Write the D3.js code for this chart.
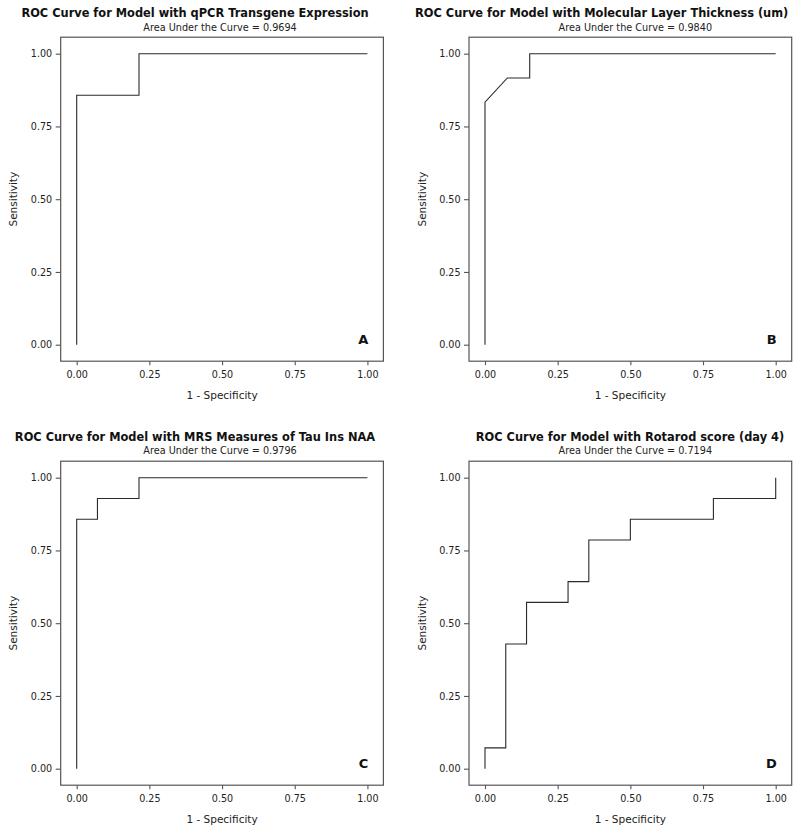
<!DOCTYPE html>
<html>
<head>
<meta charset="utf-8">
<script src="https://cdn.jsdelivr.net/npm/d3@7"></script>
<style>
  html, body { margin: 0; padding: 0; background: #fff; }
  svg { display: block; }
</style>
</head>
<body>
<div id="chart"></div>
<script>
// ---- Data ----
const titles = [
  "ROC Curve for Model with qPCR Transgene Expression",
  "ROC Curve for Model with Molecular Layer Thickness (um)",
  "ROC Curve for Model with MRS Measures of Tau Ins NAA",
  "ROC Curve for Model with Rotarod score (day 4)"
];
const aucValues = ["0.9694", "0.9840", "0.9796", "0.7194"];
const panelLetters = ["A", "B", "C", "D"];

const fprA = [0, 0, 0.2143, 0.2143, 1];
const tprA = [0, 0.8571, 0.8571, 1, 1];

const fprB = [0, 0, 0.0769, 0.1538, 0.1538, 1];
const tprB = [0, 0.8333, 0.9167, 0.9167, 1, 1];

const fprC = [0, 0, 0.0714, 0.0714, 0.2143, 0.2143, 1];
const tprC = [0, 0.8571, 0.8571, 0.9286, 0.9286, 1, 1];

const fprD = [0, 0, 0.0714, 0.0714, 0.1429, 0.1429, 0.2857, 0.2857, 0.3571, 0.3571, 0.5, 0.5, 0.7857, 0.7857, 1, 1];
const tprD = [0, 0.0714, 0.0714, 0.4286, 0.4286, 0.5714, 0.5714, 0.6429, 0.6429, 0.7857, 0.7857, 0.8571, 0.8571, 0.9286, 0.9286, 1];

const tickValues = [0, 0.25, 0.5, 0.75, 1];
const tickLabels = ["0.00", "0.25", "0.50", "0.75", "1.00"];
const xAxisTitle = "1 - Specificity";
const yAxisTitle = "Sensitivity";

// ---- Layout ----
const W = 800, H = 834;
const layout = [
  { ox: 0,     oy: 0,   titleX: 195 },
  { ox: 408.3, oy: 0,   titleX: 601.7 },
  { ox: 0,     oy: 424, titleX: 195 },
  { ox: 408.3, oy: 424, titleX: 630 }
];
const series = [[fprA, tprA], [fprB, tprB], [fprC, tprC], [fprD, tprD]];

const svg = d3.select("#chart").append("svg")
  .attr("width", W).attr("height", H)
  .style("font-family", "'DejaVu Sans', Verdana, sans-serif");

const PW = 290.7, PH = 291, PAD = 16;

layout.forEach((L, i) => {
  const x0 = 76.7 + L.ox;
  const y1 = 53.7 + L.oy;
  const x = d3.scaleLinear().domain([0, 1]).range([x0, x0 + PW]);
  const y = d3.scaleLinear().domain([0, 1]).range([y1 + PH, y1]);

  const boxL = x(0) - PAD, boxR = x(1) + PAD;
  const boxT = y(1) - 16.5, boxB = y(0) + 16.5;

  const g = svg.append("g");

  // titles
  g.append("text")
    .attr("x", L.titleX).attr("y", 17.3 + L.oy - (L.oy ? 0.5 : 0))
    .attr("text-anchor", "middle")
    .style("font-weight", "bold").style("font-size", "11.4px").attr("fill", "#111")
    .text(titles[i]);
  g.append("text")
    .attr("x", (boxL + boxR) / 2 + (i % 2 ? 5 : -2)).attr("y", 30.7 + L.oy - (L.oy ? 0.5 : 0))
    .attr("text-anchor", "middle")
    .style("font-size", "9.7px").attr("fill", "#222")
    .text("Area Under the Curve = " + aucValues[i]);

  // box
  g.append("rect")
    .attr("x", boxL).attr("y", boxT)
    .attr("width", boxR - boxL).attr("height", boxB - boxT)
    .attr("fill", "none").attr("stroke", "#555").attr("stroke-width", 1.2);

  // axes
  const yAxis = d3.axisLeft(y).tickValues(tickValues)
    .tickFormat((d, k) => tickLabels[k]).tickSize(5).tickPadding(3.5);
  const ya = g.append("g").attr("transform", `translate(${boxL},0)`).call(yAxis);
  const xAxis = d3.axisBottom(x).tickValues(tickValues)
    .tickFormat((d, k) => tickLabels[k]).tickSize(4).tickPadding(6);
  const xa = g.append("g").attr("transform", `translate(0,${boxB})`).call(xAxis);
  [ya, xa].forEach(a => {
    a.select(".domain").remove();
    a.selectAll(".tick line").attr("stroke", "#555").attr("stroke-width", 1.1);
    a.selectAll(".tick text").attr("fill", "#222")
      .style("font-size", "9.6px").style("font-family", "'DejaVu Sans', Verdana, sans-serif");
  });

  // axis titles
  g.append("text")
    .attr("x", (x(0) + x(1)) / 2).attr("y", boxB + 38)
    .attr("text-anchor", "middle").style("font-size", "10.5px").attr("fill", "#222")
    .text(xAxisTitle);
  g.append("text")
    .attr("transform", `translate(${boxL - 47},${(y(0) + y(1)) / 2}) rotate(-90)`)
    .attr("text-anchor", "middle").attr("dy", "0.35em")
    .style("font-size", "10.5px").attr("fill", "#222")
    .text(yAxisTitle);

  // curve
  const [fpr, tpr] = series[i];
  const pts = fpr.map((v, k) => [v, tpr[k]]);
  g.append("path")
    .datum(pts)
    .attr("d", d3.line().x(d => x(d[0])).y(d => y(d[1])))
    .attr("fill", "none").attr("stroke", "#2a2a2a").attr("stroke-width", 1.1);

  // panel letter
  g.append("text")
    .attr("x", x(1) + 1).attr("y", y(0) - 1)
    .attr("text-anchor", "end")
    .style("font-weight", "bold").style("font-size", "13px").attr("fill", "#111")
    .text(panelLetters[i]);
});
</script>
</body>
</html>
